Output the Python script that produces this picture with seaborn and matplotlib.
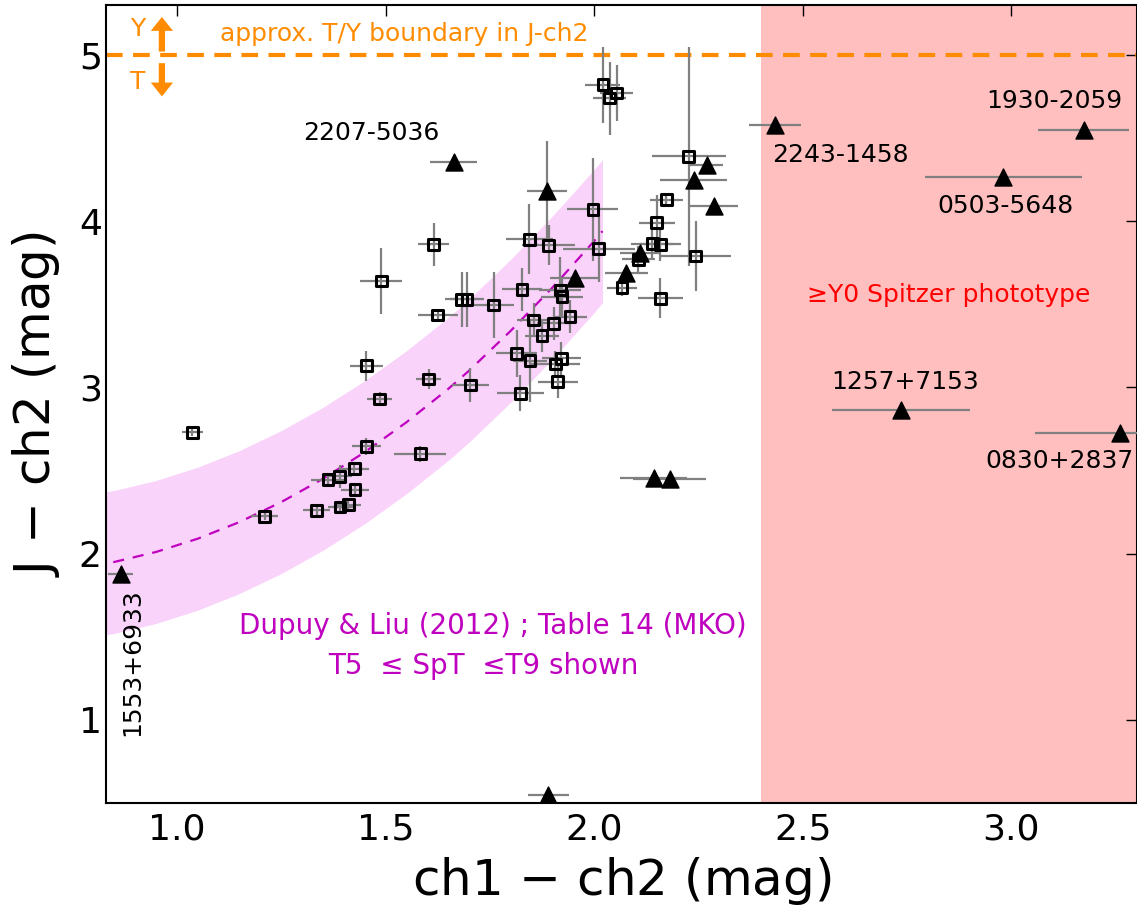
import matplotlib
matplotlib.use('Agg')
import matplotlib.pyplot as plt
import numpy as np
import pandas as pd
import seaborn as sns

# literature T dwarfs (open squares): ch1-ch2, J-ch2 and their errors
sq_x = [1.037, 1.210, 1.335, 1.362, 1.390, 1.391, 1.411, 1.425, 1.427, 1.454,
        1.454, 1.486, 1.490, 1.583, 1.603, 1.615, 1.625, 1.683, 1.695, 1.703,
        1.759, 1.814, 1.823, 1.827, 1.845, 1.846, 1.855, 1.875, 1.891, 1.903,
        1.907, 1.913, 1.919, 1.921, 1.923, 1.942, 1.997, 2.011, 2.021, 2.037,
        2.054, 2.067, 2.106, 2.139, 2.150, 2.159, 2.159, 2.173, 2.227, 2.243]
sq_y = [2.730, 2.225, 2.260, 2.445, 2.465, 2.280, 2.295, 2.510, 2.385, 2.645,
        3.130, 2.930, 3.640, 2.600, 3.050, 3.860, 3.435, 3.530, 3.530, 3.015,
        3.495, 3.205, 2.965, 3.590, 3.890, 3.160, 3.405, 3.310, 3.855, 3.385,
        3.140, 3.035, 3.585, 3.175, 3.545, 3.425, 4.070, 3.835, 4.820, 4.740,
        4.770, 3.600, 3.770, 3.865, 3.990, 3.860, 3.535, 4.130, 4.390, 3.790]
sq_xerr = [0.025, 0.033, 0.032, 0.040, 0.030, 0.030, 0.030, 0.035, 0.034, 0.035,
           0.040, 0.030, 0.050, 0.062, 0.030, 0.037, 0.048, 0.040, 0.040, 0.044,
           0.050, 0.050, 0.056, 0.048, 0.056, 0.040, 0.040, 0.040, 0.064, 0.040,
           0.060, 0.048, 0.050, 0.047, 0.050, 0.040, 0.061, 0.086, 0.042, 0.040,
           0.040, 0.036, 0.040, 0.050, 0.043, 0.050, 0.053, 0.040, 0.088, 0.085]
sq_yerr = [0.020, 0.020, 0.035, 0.030, 0.070, 0.030, 0.030, 0.030, 0.030, 0.050,
           0.090, 0.040, 0.200, 0.050, 0.060, 0.130, 0.030, 0.165, 0.165, 0.100,
           0.200, 0.140, 0.110, 0.130, 0.210, 0.250, 0.100, 0.100, 0.120, 0.100,
           0.080, 0.100, 0.200, 0.100, 0.120, 0.100, 0.310, 0.200, 0.230, 0.220,
           0.170, 0.050, 0.080, 0.100, 0.170, 0.100, 0.120, 0.030, 0.660, 0.210]

# new objects (filled triangles)
tri_x = [0.865, 1.663, 1.887, 1.890, 1.954, 2.077, 2.111, 2.143, 2.181,
         2.239, 2.270, 2.287, 2.433, 2.736, 2.981, 3.173, 3.261]
tri_y = [1.880, 4.355, 4.180, 0.546, 3.655, 3.690, 3.810, 2.455, 2.450,
         4.250, 4.340, 4.090, 4.578, 2.861, 4.264, 4.550, 2.725]
tri_xerr = [0.030, 0.057, 0.047, 0.049, 0.060, 0.052, 0.050, 0.080, 0.087,
            0.080, 0.040, 0.057, 0.062, 0.166, 0.188, 0.108, 0.205]
tri_yerr = [0.0, 0.0, 0.30, 0.0, 0.0, 0.0, 0.0, 0.0, 0.0,
            0.0, 0.0, 0.0, 0.0, 0.0, 0.0, 0.0, 0.0]

# object names and where they are written
lab_names = ['2207-5036', '2243-1458', '1930-2059', '0503-5648', '1257+7153', '0830+2837']
lab_x = [1.467, 2.590, 3.103, 2.986, 2.745, 3.115]
lab_y = [4.530, 4.400, 4.720, 4.088, 3.030, 2.555]

dl_x = [0.80, 0.85, 0.90, 0.95, 1.00, 1.05, 1.10, 1.15, 1.20, 1.25, 1.30,
        1.35, 1.40, 1.45, 1.50, 1.55, 1.60, 1.65, 1.70, 1.75, 1.80, 1.85,
        1.90, 1.95, 2.00, 2.02]
dl_y = [1.93, 1.95, 1.98, 2.01, 2.05, 2.09, 2.14, 2.19, 2.25, 2.31, 2.38,
        2.45, 2.53, 2.61, 2.70, 2.79, 2.89, 2.99, 3.10, 3.22, 3.34, 3.47,
        3.60, 3.74, 3.88, 3.94]
dl_rms = 0.43

ty_boundary = 5.0   # approx T/Y boundary in J-ch2
y0_cut = 2.4        # ch1-ch2 of >=Y0 Spitzer phototype

squares = pd.DataFrame({'x': sq_x, 'y': sq_y, 'xerr': sq_xerr, 'yerr': sq_yerr})
tris = pd.DataFrame({'x': tri_x, 'y': tri_y, 'xerr': tri_xerr, 'yerr': tri_yerr})
dl = pd.DataFrame({'x': dl_x, 'y': dl_y})

sns.set_style('white')
plt.rcParams['font.family'] = ['DejaVu Sans']
plt.rcParams['mathtext.fontset'] = 'dejavusans'
plt.rcParams['text.color'] = 'k'
plt.rcParams['axes.labelcolor'] = 'k'
plt.rcParams['xtick.color'] = 'k'
plt.rcParams['ytick.color'] = 'k'

fig = plt.figure(figsize=(11.37, 9.15), dpi=100)
ax = fig.add_axes([106 / 1137, 1 - 803 / 915, 1030.5 / 1137, 798 / 915])

orange = 'darkorange'
mag = 'm'

# shaded regions
ax.axvspan(y0_cut, 4.0, color='red', alpha=0.25, lw=0, zorder=0)
ax.fill_between(dl['x'], dl['y'] - dl_rms, dl['y'] + dl_rms,
                color='violet', alpha=0.35, lw=0, zorder=1)
sns.lineplot(data=dl, x='x', y='y', ax=ax, color=mag, lw=1.6,
             dashes=False, zorder=2).lines[-1].set_dashes((5, 4))

ax.axhline(ty_boundary, color=orange, lw=3, dashes=(4, 2.5), zorder=2)

# error bars under the markers
ax.errorbar(squares['x'], squares['y'], xerr=squares['xerr'], yerr=squares['yerr'],
            fmt='none', ecolor='gray', elinewidth=1.6, capsize=0, zorder=3)
ax.errorbar(tris['x'], tris['y'], xerr=tris['xerr'], yerr=tris['yerr'],
            fmt='none', ecolor='gray', elinewidth=1.6, capsize=0, zorder=3)

sns.scatterplot(data=squares, x='x', y='y', ax=ax, marker='s', s=60,
                facecolor='none', edgecolor='k', linewidth=2.2, zorder=4)
sns.scatterplot(data=tris, x='x', y='y', ax=ax, marker='^', s=150,
                color='k', edgecolor='k', linewidth=1, zorder=5)

# texts
for name, lx, ly in zip(lab_names, lab_x, lab_y):
    ax.text(lx, ly, name, fontsize=18, ha='center', va='center', zorder=6)
ax.text(0.894, 1.345, '1553+6933', fontsize=18, rotation=90,
        ha='center', va='center', zorder=6)

ax.text(2.849, 3.555, '\u2265Y0 Spitzer phototype', color='red', fontsize=18,
        ha='center', va='center', zorder=6)
ax.text(1.758, 1.564, 'Dupuy & Liu (2012) ; Table 14 (MKO)', color=mag,
        fontsize=20, ha='center', va='center', zorder=6)
ax.text(1.735, 1.324, 'T5  \u2264 SpT  \u2264T9 shown', color=mag,
        fontsize=20, ha='center', va='center', zorder=6)

ax.text(1.104, 5.126, 'approx. T/Y boundary in J-ch2', color=orange, fontsize=18,
        ha='left', va='center', zorder=6)
ax.text(0.905, 5.156, 'Y', color=orange, fontsize=18, ha='center', va='center')
ax.text(0.905, 4.838, 'T', color=orange, fontsize=18, ha='center', va='center')
arrow = dict(facecolor=orange, edgecolor='none', width=4.5, headwidth=16,
             headlength=10, shrink=0)
ax.annotate('', xy=(0.964, 5.228), xytext=(0.964, 5.02), arrowprops=arrow)
ax.annotate('', xy=(0.964, 4.75), xytext=(0.964, 4.95), arrowprops=arrow)

ax.set_xlim(0.83, 3.30)
ax.set_ylim(0.5, 5.3)
ax.set_xticks([1.0, 1.5, 2.0, 2.5, 3.0])
ax.set_yticks([1, 2, 3, 4, 5])
ax.tick_params(direction='in', top=True, right=True, length=8, width=1,
               labelsize=26, color='k')
ax.tick_params(axis='x', pad=7)
ax.tick_params(axis='y', pad=3)
for sp in ax.spines.values():
    sp.set_linewidth(1.5)
    sp.set_color('k')

ax.set_xlabel('ch1 $-$ ch2 (mag)', fontsize=36, labelpad=6)
ax.set_ylabel('J $-$ ch2 (mag)', fontsize=36, labelpad=12)

fig.savefig('out.png', dpi=100)
